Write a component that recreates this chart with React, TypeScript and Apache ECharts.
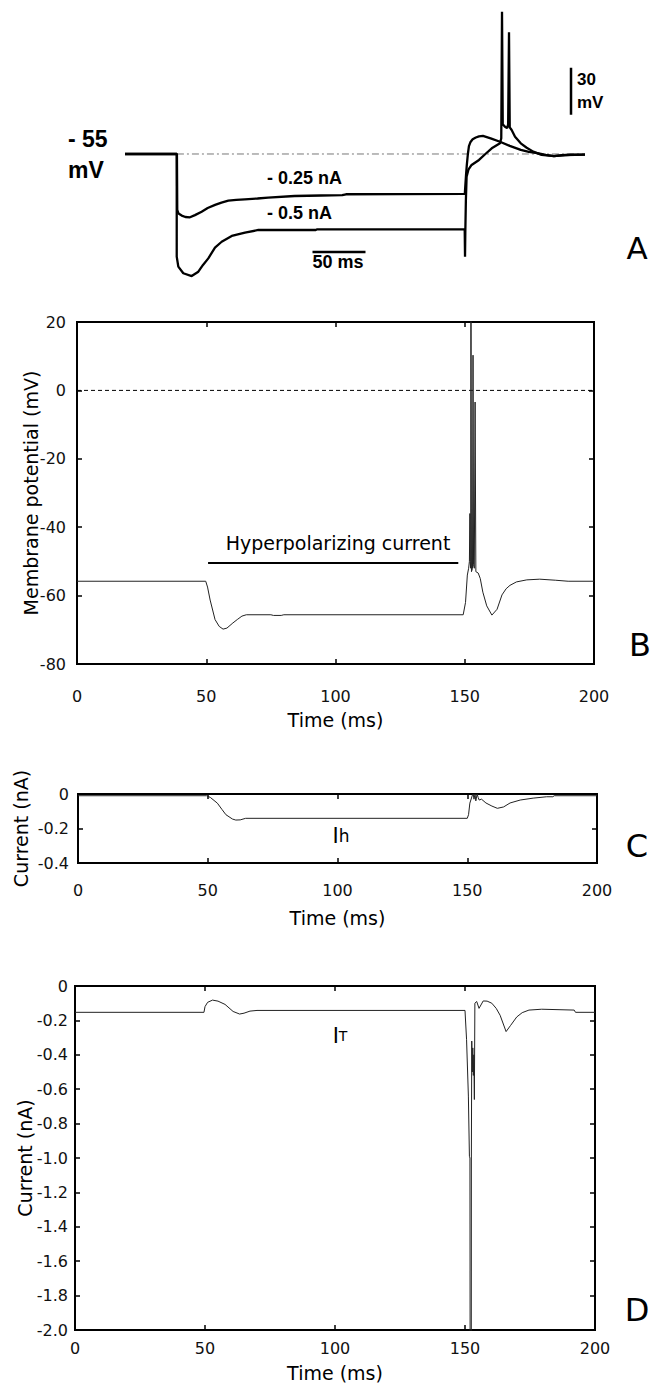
import React, { useEffect, useRef } from 'react';
import * as echarts from 'echarts';

// ---------- Panel A (recorded traces, ms / mV) ----------
const aTrace025: number[][] = [
  [0, -55], [49, -55], [49.3, -90.7], [50.5, -93], [53.5, -94.3], [57, -95.2], [61.3, -95.4], [66, -94],
  [72.3, -91.8], [78, -89.5], [85, -87.5], [91, -86], [97.5, -84.8], [105, -84.3], [113, -83.9], [125, -83.4],
  [135, -82.9], [160, -81.8], [185, -81.5], [205, -81.3], [208.5, -80.7], [260, -80.6], [320.6, -80.5],
  [321.2, -74], [321.8, -68], [322.5, -62], [323.5, -55], [324.5, -50], [326, -47.3], [328, -45.6], [331, -44.5],
  [334, -43.8], [337.7, -43.5], [345, -45], [353.8, -47.2], [363, -49.8], [373.4, -52.4], [381, -53.6],
  [389, -54.5], [397, -55.6], [404.7, -56.3], [412, -55.8], [420, -55.5], [434, -55.4],
];
const aTrace05: number[][] = [
  [0, -55], [48.8, -55], [48.8, -120.5], [50.3, -126.9], [55, -131.1], [62.9, -132.9], [69.2, -130.1],
  [73.6, -125.8], [78.6, -121.6], [84.9, -114.7], [91.2, -111], [100.7, -107.3], [113.2, -105.2],
  [125.8, -103.5], [180, -103.5], [181, -103.1], [320.5, -102.9], [320.8, -120.5], [321.1, -104],
  [321.6, -85], [322.3, -69.5], [324, -65], [327, -62], [334, -58.8], [340, -55], [346, -51.4],
  [353.8, -48.2], [355, -45], [355.7, 35.8], [356.4, -36], [358.5, -37.6], [360.5, -38.5], [361.5, -36],
  [362.3, 22.7], [363, -38], [364.8, -39.7], [368, -44], [373.4, -48.2], [379, -51], [385.2, -53.5],
  [393, -55.6], [404.7, -56.3], [415, -55.7], [434, -55.4],
];
const aRestLine: number[][] = [[49, -55], [434, -55]];
const aBar30mV: number[][] = [[420.8, 0], [420.8, -30]];
const aBar50ms: number[][] = [[176.9, -117.5], [226.9, -117.5]];

// ---------- Panel B (membrane potential, mV) ----------
const bTrace: number[][] = [
  [0, -55.8], [49.8, -55.8], [50.5, -57.5], [51.5, -61.3], [53.4, -67], [55, -69], [56.5, -69.8], [58, -69.5],
  [60.3, -68], [62, -67], [63.8, -66], [65.5, -65.6], [75, -65.6], [76, -65.8], [79, -65.8], [80, -65.6],
  [149.4, -65.6], [150.3, -62], [151, -54], [151.5, -52], [151.8, -50], [152, -36], [152.1, -50], [152.3, -52],
  [152.4, 40], [152.6, -53], [153, -52], [153.2, 10.3], [153.4, -51], [153.7, -52], [154, -3.4], [154.3, -53],
  [155.2, -53.4], [156, -55], [157, -59], [158.5, -63], [160.5, -65.7], [162.5, -64], [164.4, -59.8],
  [166, -58], [167.5, -57], [170, -56], [174, -55.4], [179, -55.2], [185, -55.5], [190, -55.8], [200, -55.8],
];
const bZeroLine: number[][] = [[0, 0], [200, 0]];
const bCurrentBar: number[][] = [[50.7, -50.5], [147.5, -50.5]];

// ---------- Panel C (Ih, nA) ----------
const cTrace: number[][] = [
  [0, -0.01], [49.6, -0.01], [51, -0.02], [53.7, -0.053], [55.5, -0.09], [57, -0.12], [59.5, -0.145],
  [60.8, -0.151], [62.5, -0.15], [64.6, -0.141], [150, -0.141], [150.5, -0.12], [151, -0.053], [152, -0.006],
  [152.3, 0.0], [152.6, -0.03], [153, 0.0], [153.3, -0.04], [153.8, 0.0], [154.2, -0.02], [154.6, -0.035],
  [155.5, -0.03], [157.2, -0.052], [159.5, -0.07], [161.6, -0.083], [164, -0.075], [166.5, -0.052],
  [170.4, -0.035], [175.4, -0.024], [180.6, -0.016], [183, -0.016], [183.5, -0.01], [200, -0.01],
];

// ---------- Panel D (IT, nA) ----------
const dTrace: number[][] = [
  [0, -0.153], [49.6, -0.153], [50, -0.12], [51, -0.095], [52.9, -0.082], [55, -0.088], [57.7, -0.107],
  [60.8, -0.148], [63.3, -0.163], [65, -0.158], [67.3, -0.146], [70, -0.142], [150, -0.142], [150.6, -0.31],
  [151.3, -0.64], [151.7, -0.99], [151.9, -1.0], [152.0, -2.6], [152.4, -2.6], [152.45, -1.0], [152.6, -0.32],
  [152.8, -0.5], [153.0, -0.36], [153.2, -0.52], [153.4, -0.4], [153.6, -0.66], [153.8, -0.1], [154.5, -0.09],
  [155.4, -0.13], [157, -0.087], [158.5, -0.088], [160.3, -0.1], [162, -0.13], [163.5, -0.17], [165.8, -0.265],
  [167.5, -0.23], [169.9, -0.18], [172, -0.155], [174.6, -0.14], [179.5, -0.135], [192, -0.14], [192.5, -0.153],
  [200, -0.153],
];

const timeTicks = { min: 0, max: 200, interval: 50 };
const bTicks = { min: -80, max: 20, interval: 20 };
const cTicks = { min: -0.4, max: 0, interval: 0.2 };
const dTicks = { min: -2, max: 0, interval: 0.2 };

const FONT = 'DejaVu Sans';
const tickStyle = { color: '#000', width: 1.5 };
const labelStyle = { fontFamily: FONT, fontSize: 16, color: '#111' };
const nameStyle = { fontFamily: FONT, fontSize: 19, color: '#000' };

const fmtCurrent = (v: number) => (Math.abs(v) < 1e-9 ? '0' : v.toFixed(1));

function frame(
  gridIndex: number,
  xr: { min: number; max: number; interval: number },
  yr: { min: number; max: number; interval: number },
  o: { xMargin: number; xNameGap: number; yMargin: number; yNameGap: number; yName: string; yFmt?: (v: number) => string }
) {
  const common = { type: 'value', gridIndex, splitLine: { show: false }, axisLine: { show: false, onZero: false } };
  const tick = { show: true, inside: true, length: 5, lineStyle: tickStyle };
  const xs = [
    {
      ...common, ...xr, position: 'bottom', axisTick: tick,
      axisLabel: { ...labelStyle, margin: o.xMargin },
      name: 'Time (ms)', nameLocation: 'middle', nameGap: o.xNameGap, nameTextStyle: nameStyle,
    },
    { ...common, ...xr, position: 'top', axisTick: tick, axisLabel: { show: false } },
  ];
  const ys = [
    {
      ...common, ...yr, position: 'left', axisTick: tick,
      axisLabel: { ...labelStyle, margin: o.yMargin, formatter: o.yFmt },
      name: o.yName, nameLocation: 'middle', nameRotate: 90, nameGap: o.yNameGap, nameTextStyle: nameStyle,
      nameMoveOverlap: false,
    },
    { ...common, ...yr, position: 'right', axisTick: tick, axisLabel: { show: false } },
  ];
  return { xs, ys };
}

const fB = frame(1, timeTicks, bTicks, { xMargin: 24, xNameGap: 46, yMargin: 11, yNameGap: 37, yName: 'Membrane potential (mV)' });
const fC = frame(2, timeTicks, cTicks, { xMargin: 19, xNameGap: 45, yMargin: 9, yNameGap: 48, yName: 'Current (nA)', yFmt: fmtCurrent });
const fD = frame(3, timeTicks, dTicks, { xMargin: 10, xNameGap: 33, yMargin: 7, yNameGap: 41, yName: 'Current (nA)', yFmt: fmtCurrent });

const border = { show: true, borderWidth: 2, borderColor: '#000', backgroundColor: 'transparent' };

function lineSeries(data: number[][], axis: number, style: any) {
  return {
    type: 'line', xAxisIndex: axis, yAxisIndex: axis, data, showSymbol: false, symbol: 'none',
    silent: true, lineStyle: style, clip: true,
  };
}

const boldA = { fontFamily: 'Liberation Sans', fontWeight: 'bold', fill: '#000', verticalAlign: 'middle' };
const letter = { fontFamily: FONT, fontSize: 32, fill: '#000', align: 'center', verticalAlign: 'middle' };

const option: any = {
  animation: false,
  backgroundColor: '#fff',
  grid: [
    { left: 125, top: 5.1, width: 460, height: 282.1 },
    { left: 77, top: 322, width: 517, height: 342, ...border },
    { left: 78, top: 794, width: 519, height: 69, ...border },
    { left: 75, top: 986, width: 520, height: 344, ...border },
  ],
  xAxis: [
    { type: 'value', gridIndex: 0, min: 0, max: 434, show: false },
    fB.xs[0], fB.xs[1], fC.xs[0], fC.xs[1], fD.xs[0], fD.xs[1],
  ],
  yAxis: [
    { type: 'value', gridIndex: 0, min: -140, max: 40, show: false },
    fB.ys[0], fB.ys[1], fC.ys[0], fC.ys[1], fD.ys[0], fD.ys[1],
  ],
  series: [
    lineSeries(aRestLine, 0, { color: '#777', width: 1, type: [7, 3, 2, 3] }),
    lineSeries(aTrace025, 0, { color: '#000', width: 2.3 }),
    lineSeries(aTrace05, 0, { color: '#000', width: 2.3 }),
    lineSeries(aBar30mV, 0, { color: '#000', width: 2.5 }),
    lineSeries(aBar50ms, 0, { color: '#000', width: 2.5 }),
    lineSeries(bZeroLine, 1, { color: '#000', width: 1, type: [4, 3] }),
    lineSeries(bCurrentBar, 1, { color: '#000', width: 2 }),
    lineSeries(bTrace, 1, { color: '#222', width: 1 }),
    lineSeries(cTrace, 3, { color: '#222', width: 1 }),
    lineSeries(dTrace, 5, { color: '#222', width: 1 }),
  ],
  graphic: [
    { type: 'text', x: 68, y: 139, style: { ...boldA, text: '- 55', fontSize: 23, align: 'left' } },
    { type: 'text', x: 68, y: 170, style: { ...boldA, text: 'mV', fontSize: 23, align: 'left' } },
    { type: 'text', x: 267, y: 178, style: { ...boldA, text: '- 0.25 nA', fontSize: 18, align: 'left' } },
    { type: 'text', x: 267, y: 213, style: { ...boldA, text: '- 0.5 nA', fontSize: 18, align: 'left' } },
    { type: 'text', x: 338, y: 262, style: { ...boldA, text: '50 ms', fontSize: 18, align: 'center' } },
    { type: 'text', x: 577, y: 79, style: { ...boldA, text: '30', fontSize: 17, align: 'left' } },
    { type: 'text', x: 577, y: 102, style: { ...boldA, text: 'mV', fontSize: 17, align: 'left' } },
    { type: 'text', x: 637, y: 248, style: { ...letter, text: 'A', fontSize: 31 } },
    { type: 'text', x: 640, y: 645, style: { ...letter, text: 'B' } },
    { type: 'text', x: 637, y: 846, style: { ...letter, text: 'C' } },
    { type: 'text', x: 637, y: 1310, style: { ...letter, text: 'D' } },
    { type: 'text', x: 338, y: 543, style: { text: 'Hyperpolarizing current', fontFamily: FONT, fontSize: 19, fill: '#000', align: 'center', verticalAlign: 'middle' } },
    {
      type: 'text', x: 341, y: 836,
      style: { text: '{a|I}{b|h}', rich: { a: { fontFamily: FONT, fontSize: 21, fill: '#000' }, b: { fontFamily: FONT, fontSize: 17, fill: '#000' } }, align: 'center', verticalAlign: 'middle' },
    },
    {
      type: 'text', x: 340, y: 1036,
      style: { text: '{a|I}{b|T}', rich: { a: { fontFamily: FONT, fontSize: 21, fill: '#000' }, b: { fontFamily: FONT, fontSize: 14, fill: '#000' } }, align: 'center', verticalAlign: 'middle' },
    },
  ],
};

export default function App() {
  const ref = useRef<HTMLDivElement>(null);
  useEffect(() => {
    if (!ref.current) return;
    const chart = echarts.init(ref.current, undefined, { renderer: 'svg' });
    chart.setOption(option);
    return () => chart.dispose();
  }, []);
  return (
    <div
      ref={ref}
      style={{ position: 'absolute', left: 0, top: 0, width: 652, height: 1383, background: '#fff' }}
    />
  );
}
